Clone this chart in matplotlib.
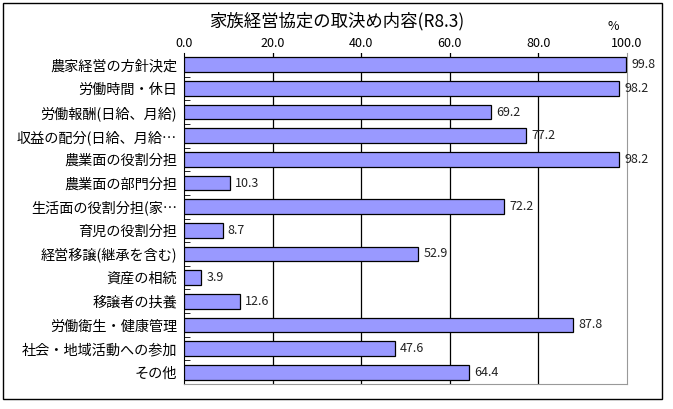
import matplotlib.pyplot as plt
from matplotlib.patches import Rectangle

plt.rcParams['font.family'] = ['Noto Sans CJK JP', 'DejaVu Sans']

items = ['農家経営の方針決定', '労働時間・休日', '労働報酬(日給、月給)', '収益の配分(日給、月給…',
         '農業面の役割分担', '農業面の部門分担', '生活面の役割分担(家…', '育児の役割分担',
         '経営移譲(継承を含む)', '資産の相続', '移譲者の扶養', '労働衛生・健康管理',
         '社会・地域活動への参加', 'その他']
values = [99.8, 98.2, 69.2, 77.2, 98.2, 10.3, 72.2, 8.7, 52.9, 3.9, 12.6, 87.8, 47.6, 64.4]
ticks = [0, 20, 40, 60, 80, 100]

fig = plt.figure(figsize=(6.73, 4.09), dpi=100)
ax = fig.add_axes([184 / 673, 1 - 384 / 409, (627 - 184) / 673, (384 - 53) / 409])

n = len(items)
ypos = list(range(n))
ax.barh(ypos, values, height=0.62, color='#9999ff', edgecolor='black', linewidth=0.9, zorder=3)
for y, v in zip(ypos, values):
    ax.text(v + 1.2, y, f'{v:.1f}', va='center', ha='left', fontsize=9, color='#222222')

ax.set_xlim(0, 100)
ax.set_ylim(n - 0.5, -0.5)
ax.xaxis.tick_top()
ax.set_xticks(ticks)
ax.set_xticklabels([f'{t:.1f}' for t in ticks], fontsize=9)
ax.tick_params(axis='x', length=0, pad=2)
ax.set_yticks(ypos)
ax.set_yticklabels(items, fontsize=10.2)
ax.tick_params(axis='y', length=0, pad=5)
ax.set_yticks([i + 0.5 for i in range(n - 1)], minor=True)
ax.tick_params(axis='y', which='minor', direction='in', length=4, color='black')
for t in ticks[1:-1]:
    ax.axvline(t, color='black', linewidth=0.9, zorder=1)

ax.spines['left'].set_color('black')
for s in ['right', 'bottom']:
    ax.spines[s].set_color('#999999')
ax.spines['top'].set_visible(False)

fig.text(337 / 673, 1 - 21 / 409, '家族経営協定の取決め内容(R8.3)', ha='center', va='center', fontsize=12.5)
fig.text(613 / 673, 1 - 26 / 409, '%', ha='center', va='center', fontsize=9)

fig.patches.append(Rectangle((3 / 673, 1 - 399 / 409), (662 - 3) / 673, (399 - 3) / 409,
                             transform=fig.transFigure, fill=False, edgecolor='black', linewidth=1))

fig.savefig('out.png', dpi=100)
